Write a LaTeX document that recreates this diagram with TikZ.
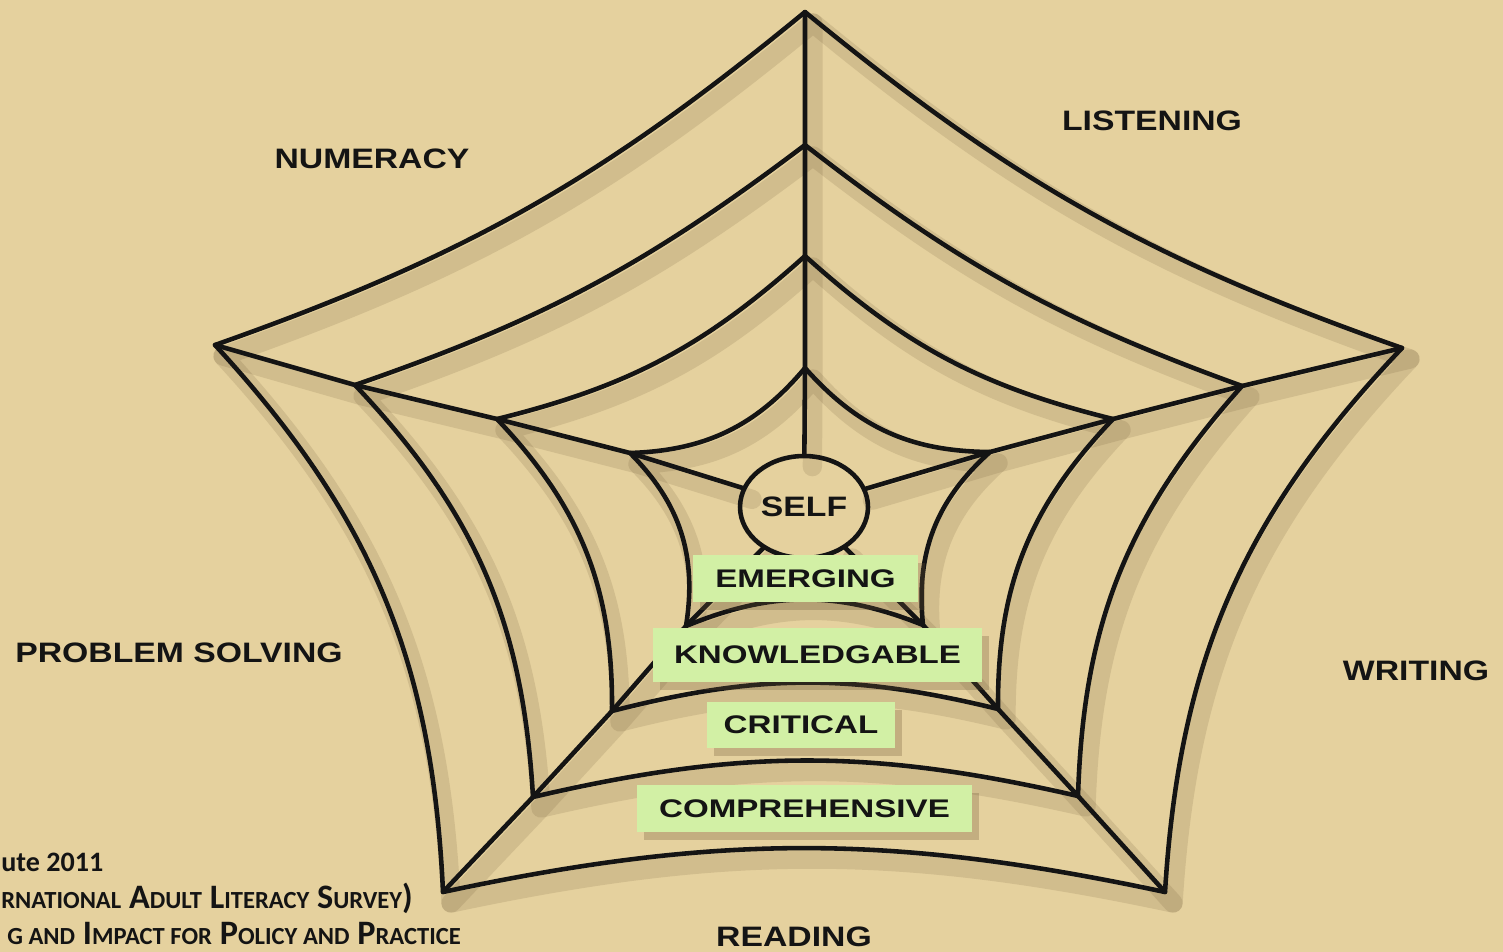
\documentclass[tikz,border=0pt]{standalone}
\usepackage{fontspec}
\usetikzlibrary{shapes.geometric}
\newfontfamily\labfont[FakeStretch=1.2]{Liberation Sans}
\newfontfamily\innfont[FakeStretch=1.3]{Liberation Sans}
\newfontfamily\calfont{Carlito}
\definecolor{paper}{HTML}{E5D19E}
\definecolor{leaf}{HTML}{D2F0A5}
\definecolor{ink}{HTML}{141414}
\definecolor{shade}{HTML}{6B5535}
\newcommand\smc[1]{{\fontsize{14}{15}\selectfont #1}}
\newcommand\drawweb[1]{%
  \draw[#1] (t1) to[bend right=10] (r1) to[bend right=20] (br1) to[bend right=12] (bl1) to[bend right=20] (l1) to[bend right=10] cycle;
  \draw[#1] (t2) to[bend right=9] (r2) to[bend right=20] (br2) to[bend right=13] (bl2) to[bend right=20] (l2) to[bend right=9] cycle;
  \draw[#1] (t3) to[bend right=14] (r3) to[bend right=22] (br3) to[bend right=14] (bl3) to[bend right=22] (l3) to[bend right=14] cycle;
  \draw[#1] (t4) to[bend right=24] (r4) to[bend right=27] (br4) to[bend right=22] (bl4) to[bend right=27] (l4) to[bend right=24] cycle;
  \draw[#1] (t1) -- (t2) -- (t3) -- (t4) -- (self);
  \draw[#1] (r1) -- (r2) -- (r3) -- (r4) -- (self);
  \draw[#1] (br1) -- (br2) -- (br3) -- (br4) -- (self);
  \draw[#1] (bl1) -- (bl2) -- (bl3) -- (bl4) -- (self);
  \draw[#1] (l1) -- (l2) -- (l3) -- (l4) -- (self);
}
\begin{document}
\begin{tikzpicture}[x=0.02cm,y=0.02cm,
  web/.style={draw=ink, line width=2.6pt, line join=round, line cap=round},
  webshadow/.style={draw=shade, line width=11pt, opacity=0.16, line join=round, line cap=round},
  lab/.style={font=\labfont\bfseries\fontsize{16}{18}\selectfont, text=ink, inner sep=0, anchor=base},
  lvl/.style={fill=leaf, inner sep=0, font=\innfont\bfseries\fontsize{14.5}{16}\selectfont, text=ink},
  lvlshadow/.style={fill=shade, opacity=0.28},
  note/.style={font=\calfont\bfseries\fontsize{19.5}{21}\selectfont, text=ink, inner sep=0, anchor=base west}]
\useasboundingbox (0,0) rectangle (1503,-952);
\fill[paper] (0,0) rectangle (1503,-952);
% ring vertices
\coordinate (t1) at (805,-12);   \coordinate (t2) at (805,-145);
\coordinate (t3) at (805,-256);  \coordinate (t4) at (805,-368);
\coordinate (r1) at (1402,-348); \coordinate (r2) at (1242,-386);
\coordinate (r3) at (1113,-419); \coordinate (r4) at (990,-452);
\coordinate (br1) at (1165,-892); \coordinate (br2) at (1078,-796);
\coordinate (br3) at (998,-709);  \coordinate (br4) at (923,-625);
\coordinate (bl1) at (443,-892); \coordinate (bl2) at (533,-797);
\coordinate (bl3) at (612,-711); \coordinate (bl4) at (686,-626);
\coordinate (l1) at (215,-345);  \coordinate (l2) at (355,-385);
\coordinate (l3) at (497,-419);  \coordinate (l4) at (630,-453);
% centre
\node[ellipse, minimum width=2.56cm, minimum height=2.04cm, inner sep=0] (self) at (804,-507) {};
% shadow of the web
\begin{scope}[transform canvas={shift={(0.16cm,-0.22cm)}}]
  \drawweb{webshadow}
\end{scope}
% web
\drawweb{web}
\node[ellipse, web, minimum width=2.56cm, minimum height=2.04cm, inner sep=0,
      font=\labfont\bfseries\fontsize{16}{18}\selectfont, text=ink] (selfring) at (804,-507) {SELF};
% level boxes
\fill[lvlshadow] (700,-563) rectangle (925,-610);
\fill[lvlshadow] (660,-636) rectangle (989,-690);
\fill[lvlshadow] (714,-710) rectangle (902,-756);
\fill[lvlshadow] (644,-793) rectangle (979,-840);
\node[lvl, minimum width=4.5cm, minimum height=0.94cm] (emerging) at (805.5,-578.5) {EMERGING};
\node[lvl, minimum width=6.58cm, minimum height=1.08cm] (knowledgable) at (817.5,-655) {KNOWLEDGABLE};
\node[lvl, minimum width=3.76cm, minimum height=0.92cm] (critical) at (801,-725) {CRITICAL};
\node[lvl, minimum width=6.7cm, minimum height=0.94cm] (comprehensive) at (804.5,-808.5) {COMPREHENSIVE};
% skill labels
\node[lab] (numeracy) at (372,-169) {NUMERACY};
\node[lab] (listening) at (1152,-131) {LISTENING};
\node[lab] (problem) at (179,-662) {PROBLEM SOLVING};
\node[lab] (writing) at (1416,-680) {WRITING};
\node[lab] (reading) at (794,-946) {READING};
% source note, as far as the picture shows it
\node[note, font=\calfont\bfseries\fontsize{16}{18}\selectfont] (src1) at (1,-871) {ute 2011};
\node[note] (src2) at (1,-908) {\smc{RNATIONAL} A\smc{DULT} L\smc{ITERACY} S\smc{URVEY})};
\node[note] (src3) at (7,-944) {\smc{G AND} I\smc{MPACT FOR} P\smc{OLICY AND} P\smc{RACTICE}};
\end{tikzpicture}
\end{document}
